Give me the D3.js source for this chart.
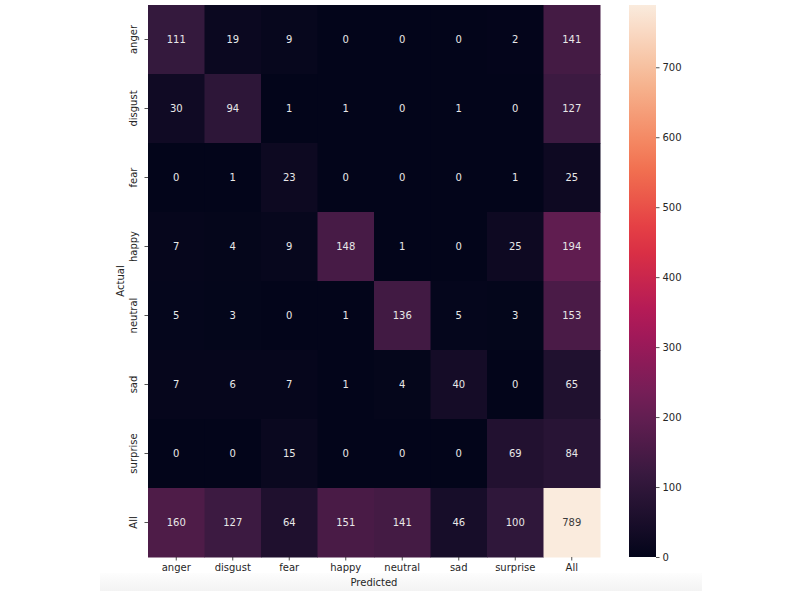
<!DOCTYPE html>
<html>
<head>
<meta charset="utf-8">
<script src="https://cdn.jsdelivr.net/npm/d3@7"></script>
<style>
  body { margin: 0; background: #fff; }
  svg { display: block; font-family: "DejaVu Sans", sans-serif; }
</style>
</head>
<body>
<div id="chart"></div>
<script>
// confusion matrix (rows = actual, cols = predicted)
const rowLabels = ["anger", "disgust", "fear", "happy", "neutral", "sad", "surprise", "All"];
const colLabels = ["anger", "disgust", "fear", "happy", "neutral", "sad", "surprise", "All"];
const matrix = [
    [111, 19, 9, 0, 0, 0, 2, 141],
    [30, 94, 1, 1, 0, 1, 0, 127],
    [0, 1, 23, 0, 0, 0, 1, 25],
    [7, 4, 9, 148, 1, 0, 25, 194],
    [5, 3, 0, 1, 136, 5, 3, 153],
    [7, 6, 7, 1, 4, 40, 0, 65],
    [0, 0, 15, 0, 0, 0, 69, 84],
    [160, 127, 64, 151, 141, 46, 100, 789]
];
const cbarTicks = [0, 100, 200, 300, 400, 500, 600, 700];

// rocket colormap stops
const rocketStops = ["#03051a", "#35193e", "#701f57", "#ad1759", "#e13342", "#f37651", "#f6b48f", "#faebdd"];
const rocketPos = [0, 1/7, 2/7, 3/7, 4/7, 5/7, 6/7, 1];

const W = 800, H = 591;
const hm = { left: 148, top: 5, width: 452, height: 552 };
const cb = { left: 629, width: 27 };
const fs = "10px";

const vmax = d3.max(matrix.flat());
const rocket = d3.scaleLinear().domain(rocketPos).range(rocketStops).interpolate(d3.interpolateRgb);
const color = v => rocket(v / vmax);

const svg = d3.select("#chart").append("svg")
    .attr("width", W)
    .attr("height", H);

// faint gray strip at the bottom of the screenshot
const defs = svg.append("defs");
const strip = defs.append("linearGradient").attr("id", "strip").attr("x1", 0).attr("y1", 0).attr("x2", 0).attr("y2", 1);
strip.append("stop").attr("offset", "0%").attr("stop-color", "#fdfdfd");
strip.append("stop").attr("offset", "100%").attr("stop-color", "#f3f3f3");
svg.append("rect")
    .attr("x", 100).attr("y", 573).attr("width", 602).attr("height", 18)
    .attr("fill", "url(#strip)");

const x = d3.scaleBand().domain(colLabels).range([hm.left, hm.left + hm.width]);
const y = d3.scaleBand().domain(rowLabels).range([hm.top, hm.top + hm.height]);

const cells = [];
matrix.forEach((row, i) => row.forEach((v, j) => cells.push({ r: rowLabels[i], c: colLabels[j], v })));

svg.append("g").selectAll("rect")
    .data(cells)
    .enter().append("rect")
    .attr("x", d => x(d.c))
    .attr("y", d => y(d.r))
    .attr("width", x.bandwidth() + 0.5)
    .attr("height", y.bandwidth() + 0.5)
    .attr("fill", d => color(d.v));

svg.append("g").selectAll("text")
    .data(cells)
    .enter().append("text")
    .attr("x", d => x(d.c) + x.bandwidth() / 2)
    .attr("y", d => y(d.r) + y.bandwidth() / 2)
    .attr("text-anchor", "middle")
    .attr("dominant-baseline", "central")
    .attr("font-size", fs)
    .attr("fill", d => d.v / vmax > 0.6 ? "#3a3a3a" : "#e8e8e8")
    .text(d => d.v);

// axes
const xAxis = svg.append("g")
    .attr("transform", `translate(0,${hm.top + hm.height})`)
    .call(d3.axisBottom(x).tickSize(3.5).tickPadding(3.5));
xAxis.select(".domain").remove();
xAxis.selectAll("text").attr("font-size", fs).attr("fill", "#262626").attr("font-family", "DejaVu Sans");
xAxis.selectAll("line").attr("stroke", "#262626").attr("stroke-width", 0.8);

const yAxis = svg.append("g")
    .attr("transform", `translate(${hm.left},0)`)
    .call(d3.axisLeft(y).tickSize(3.5).tickPadding(0));
yAxis.select(".domain").remove();
yAxis.selectAll("line").attr("stroke", "#262626").attr("stroke-width", 0.8);
yAxis.selectAll("text")
    .attr("font-size", fs).attr("fill", "#262626").attr("font-family", "DejaVu Sans")
    .attr("text-anchor", "middle")
    .attr("dy", null)
    .attr("x", null)
    .attr("transform", "translate(-11,0) rotate(-90)");

svg.append("text")
    .attr("x", hm.left + hm.width / 2)
    .attr("y", 586)
    .attr("text-anchor", "middle")
    .attr("font-size", fs)
    .attr("fill", "#262626")
    .text("Predicted");

svg.append("text")
    .attr("transform", `translate(124,${hm.top + hm.height / 2}) rotate(-90)`)
    .attr("text-anchor", "middle")
    .attr("font-size", fs)
    .attr("fill", "#262626")
    .text("Actual");

// colorbar
const cy = d3.scaleLinear().domain([0, vmax]).range([hm.top + hm.height, hm.top]);
const grad = defs.append("linearGradient").attr("id", "cbar").attr("x1", 0).attr("y1", 1).attr("x2", 0).attr("y2", 0);
d3.range(0, 1.0001, 0.05).forEach(t => {
    grad.append("stop").attr("offset", `${t * 100}%`).attr("stop-color", rocket(t));
});
svg.append("rect")
    .attr("x", cb.left).attr("y", hm.top)
    .attr("width", cb.width).attr("height", hm.height)
    .attr("fill", "url(#cbar)");

const cAxis = svg.append("g")
    .attr("transform", `translate(${cb.left + cb.width},0)`)
    .call(d3.axisRight(cy).tickValues(cbarTicks).tickSize(3.5).tickPadding(3));
cAxis.select(".domain").remove();
cAxis.selectAll("line").attr("stroke", "#262626").attr("stroke-width", 0.8);
cAxis.selectAll("text").attr("font-size", fs).attr("fill", "#262626").attr("font-family", "DejaVu Sans");
</script>
</body>
</html>
